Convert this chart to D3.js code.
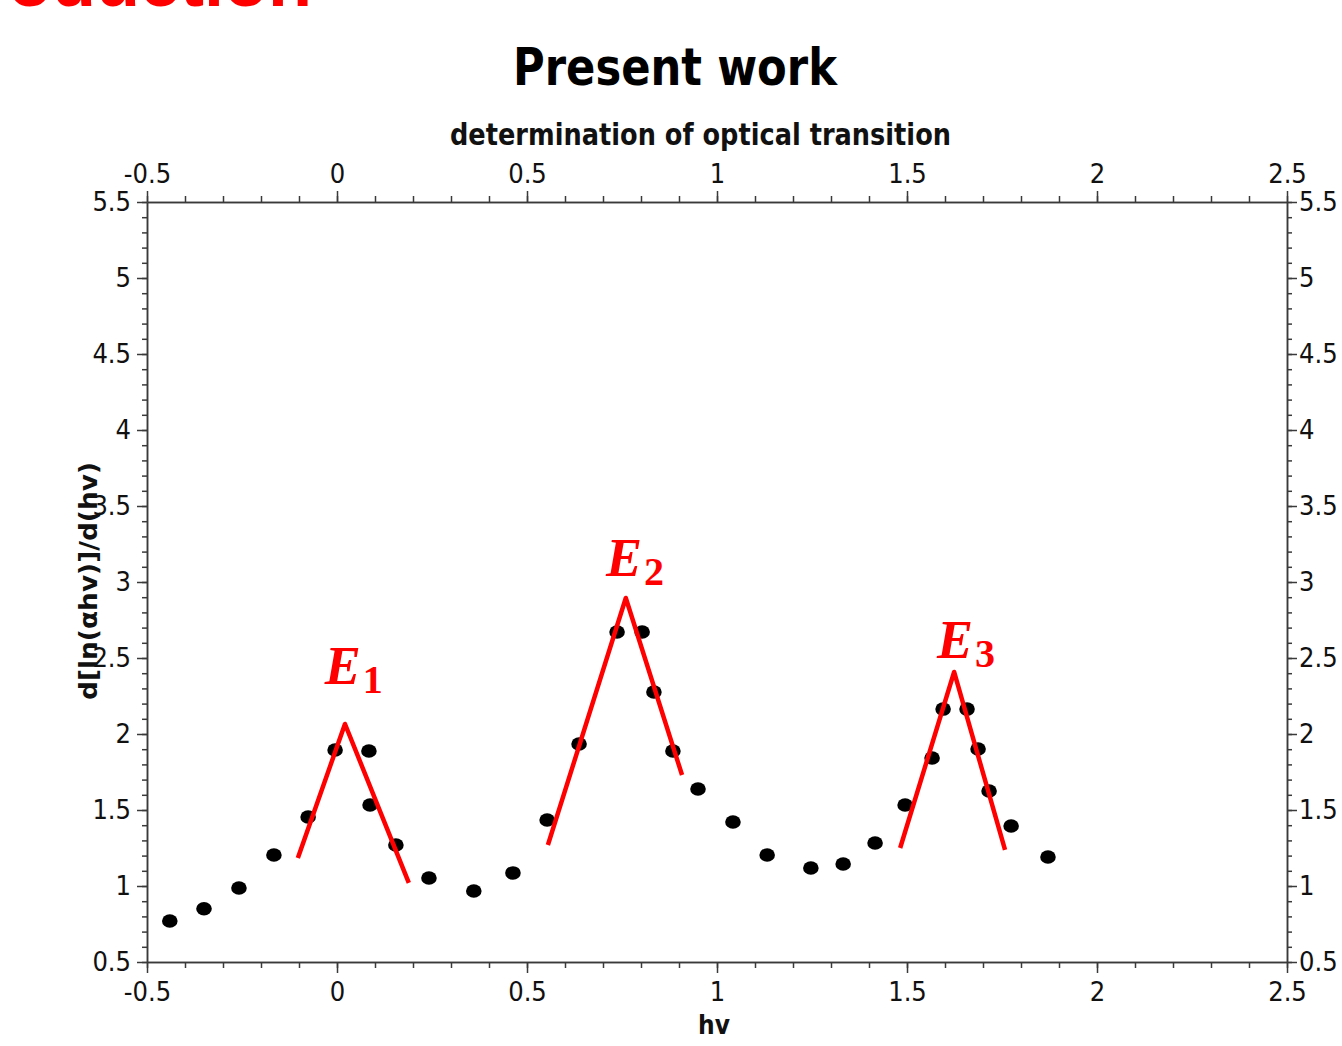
<!DOCTYPE html>
<html>
<head>
<meta charset="utf-8">
<script src="https://cdn.jsdelivr.net/npm/d3@7"></script>
<style>
  html, body { margin: 0; padding: 0; background: #fff; }
  svg { display: block; }
  .tick text { font-family: 'DejaVu Sans Condensed', 'DejaVu Sans', sans-serif; font-stretch: condensed; font-size: 27px; fill: #111; }
  .axis path, .axis line { stroke: #3a3a3a; stroke-width: 1.5; }
</style>
</head>
<body>
<script>
// ---- data ----
const hv = [-0.44, -0.35, -0.258, -0.166, -0.076, -0.005, 0.084, 0.087, 0.155, 0.242,
            0.36, 0.463, 0.553, 0.637, 0.737, 0.803, 0.834, 0.884, 0.95, 1.042,
            1.132, 1.247, 1.332, 1.416, 1.495, 1.566, 1.595, 1.658, 1.687, 1.716,
            1.774, 1.871];
const dlnDhv = [0.77, 0.85, 0.987, 1.204, 1.454, 1.895, 1.888, 1.533, 1.27, 1.053,
                0.967, 1.086, 1.434, 1.934, 2.671, 2.671, 2.276, 1.888, 1.638, 1.421,
                1.204, 1.118, 1.145, 1.283, 1.533, 1.842, 2.164, 2.164, 1.901, 1.625,
                1.395, 1.191];
// fitted peak lines: [start, peak, end]
const fitE1x = [-0.103, 0.021, 0.189];
const fitE1y = [1.184, 2.066, 1.02];
const fitE2x = [0.555, 0.76, 0.908];
const fitE2y = [1.27, 2.895, 1.73];
const fitE3x = [1.482, 1.624, 1.758];
const fitE3y = [1.25, 2.408, 1.237];
const peakNames = ["1", "2", "3"];
const peakLabelX = [-0.032, 0.708, 1.579];
const peakLabelY = [2.329, 3.039, 2.5];
const xMajor = [-0.5, 0, 0.5, 1, 1.5, 2, 2.5];
const yMajor = [0.5, 1, 1.5, 2, 2.5, 3, 3.5, 4, 4.5, 5, 5.5];
const xDomain = [-0.5, 2.5];
const yDomain = [0.5, 5.5];

// ---- layout ----
const W = 1342, H = 1046;
const L = 147, R = 1287, T = 202, B = 962;
const svg = d3.select("body").append("svg").attr("width", W).attr("height", H);

const x = d3.scaleLinear().domain(xDomain).range([L, R]);
const y = d3.scaleLinear().domain(yDomain).range([B, T]);

const xMinor = d3.range(-0.5, 2.5001, 0.1).map(v => +v.toFixed(2));
const yMinor = d3.range(0.5, 5.5001, 0.1).map(v => +v.toFixed(2));
const fmt = v => (v === 0 ? "0" : String(v));

// cut-off heading at very top
svg.append("text").attr("x", 312).attr("y", 6).attr("text-anchor", "end")
  .attr("font-family", "Liberation Sans, Arial, sans-serif").attr("font-weight", "bold")
  .attr("font-size", 72).attr("fill", "#ff0000").text("Introduction");

// titles
svg.append("text").attr("x", 513).attr("y", 85)
  .attr("font-family", "DejaVu Sans, sans-serif").attr("font-weight", "bold")
  .attr("font-size", 52).attr("textLength", 324).attr("lengthAdjust", "spacingAndGlyphs")
  .attr("fill", "#000").text("Present work");
svg.append("text").attr("x", 450).attr("y", 145)
  .attr("font-family", "DejaVu Sans, sans-serif").attr("font-weight", "bold")
  .attr("font-size", 31).attr("textLength", 501).attr("lengthAdjust", "spacingAndGlyphs")
  .attr("fill", "#111").text("determination of optical transition");

// axes
function addAxis(gen, transform, vals, size, labels) {
  const g = svg.append("g").attr("class", "axis").attr("transform", transform)
    .call(gen.tickValues(vals).tickSize(size).tickSizeOuter(0).tickPadding(labels ? 6 : 0)
      .tickFormat(labels ? fmt : () => ""));
  return g;
}
addAxis(d3.axisBottom(x), `translate(0,${B})`, xMinor, 6, false);
const gb = addAxis(d3.axisBottom(x), `translate(0,${B})`, xMajor, 11, true);
gb.selectAll(".tick text").attr("y", 20);
addAxis(d3.axisTop(x), `translate(0,${T})`, xMinor, 6, false);
const gt = addAxis(d3.axisTop(x), `translate(0,${T})`, xMajor, 11, true);
gt.selectAll(".tick text").attr("y", -19);
addAxis(d3.axisLeft(y), `translate(${L},0)`, yMinor, 5, false);
addAxis(d3.axisLeft(y), `translate(${L},0)`, yMajor, 10, true);
addAxis(d3.axisRight(y), `translate(${R},0)`, yMinor, 5, false);
const gr = addAxis(d3.axisRight(y), `translate(${R},0)`, yMajor, 10, true);
gr.selectAll(".tick text").attr("x", 12);
svg.selectAll(".axis .domain").attr("stroke", "#3a3a3a").attr("stroke-width", 1.5);

// axis labels
svg.append("text").attr("x", 714).attr("y", 1034).attr("text-anchor", "middle")
  .attr("font-family", "DejaVu Sans Condensed, DejaVu Sans, sans-serif").attr("font-weight", "bold")
  .attr("font-size", 26).attr("fill", "#111").text("hv");
svg.append("text").attr("transform", "translate(97,581) rotate(-90)").attr("text-anchor", "middle")
  .attr("font-family", "DejaVu Sans, sans-serif").attr("font-weight", "bold")
  .attr("font-size", 25).attr("textLength", 238).attr("lengthAdjust", "spacingAndGlyphs")
  .attr("fill", "#111").text("d[ln(\u03b1hv)]/d(hv)");

// data points
svg.append("g").selectAll("ellipse").data(hv.map((v, i) => [v, dlnDhv[i]])).join("ellipse")
  .attr("cx", d => x(d[0])).attr("cy", d => y(d[1]))
  .attr("rx", 7.8).attr("ry", 6.8).attr("fill", "#000");

// fitted peak lines
const line = d3.line().x(d => x(d[0])).y(d => y(d[1]));
[[fitE1x, fitE1y], [fitE2x, fitE2y], [fitE3x, fitE3y]].forEach(([fx, fy]) => {
  svg.append("path").datum(fx.map((v, i) => [v, fy[i]]))
    .attr("d", line).attr("fill", "none").attr("stroke", "#ff0000")
    .attr("stroke-width", 4.5).attr("stroke-linejoin", "round");
});

// peak labels
peakNames.forEach((n, i) => {
  const t = svg.append("text").attr("x", x(peakLabelX[i])).attr("y", y(peakLabelY[i]))
    .attr("font-family", "Liberation Serif, serif").attr("fill", "#ff0000");
  t.append("tspan").attr("font-style", "italic").attr("font-weight", "bold")
    .attr("font-size", 54).text("E");
  t.append("tspan").attr("font-weight", "bold").attr("font-size", 40)
    .attr("dx", 2).attr("dy", 9).text(n);
});
</script>
</body>
</html>
